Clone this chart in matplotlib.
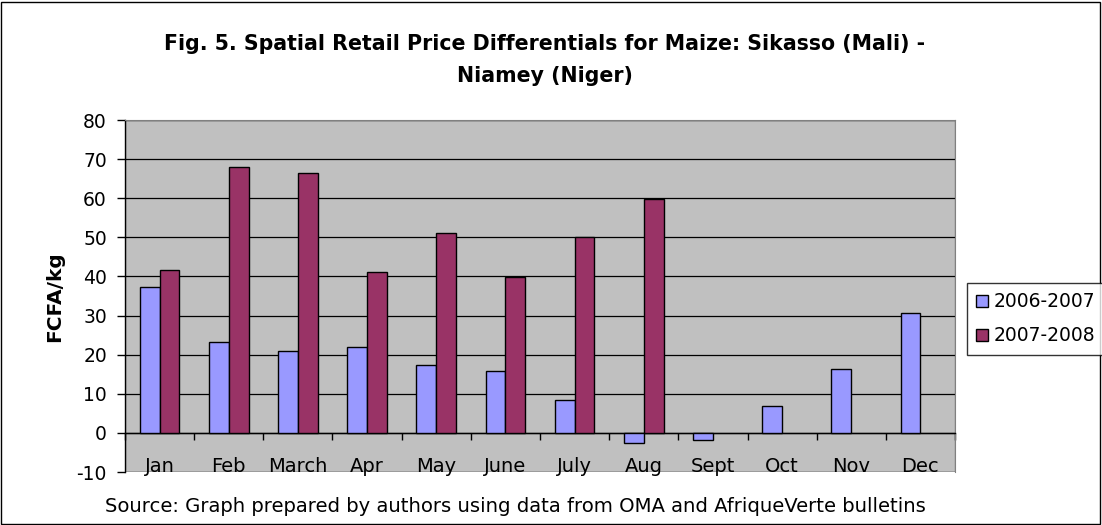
import matplotlib
matplotlib.use("Agg")
import matplotlib.pyplot as plt
import numpy as np
from matplotlib.patches import Rectangle

months = ["Jan", "Feb", "March", "Apr", "May", "June", "July", "Aug", "Sept", "Oct", "Nov", "Dec"]
s2006 = [37.3, 23.2, 21.0, 22.0, 17.4, 15.8, 8.3, -2.6, -1.8, 7.0, 16.3, 30.7]
s2007 = [41.6, 68.0, 66.4, 41.2, 51.2, 39.9, 50.0, 59.7, np.nan, np.nan, np.nan, np.nan]
series_names = ["2006-2007", "2007-2008"]
yticks = list(range(-10, 81, 10))

plt.rcParams['font.family'] = ['DejaVu Sans']
plt.rcParams['axes.unicode_minus'] = False

W, H = 1102, 525
fig = plt.figure(figsize=(W / 100, H / 100), dpi=100)
ax = fig.add_axes([125 / W, 1 - 472 / H, (955 - 125) / W, (472 - 120) / H])

x = np.arange(len(months))
bw = 1 / 3.5
ax.bar(x - bw / 2, s2006, bw, color="#9999FF", edgecolor="black", linewidth=1, label=series_names[0], zorder=3)
ax.bar(x + bw / 2, s2007, bw, color="#993366", edgecolor="black", linewidth=1, label=series_names[1], zorder=3)

ax.set_facecolor("#C0C0C0")
ax.set_xlim(-0.5, len(months) - 0.5)
ax.set_ylim(-10, 80)
ax.set_yticks(yticks)
ax.yaxis.grid(True, color="black", linewidth=0.9, zorder=1)
ax.set_axisbelow(True)
ax.tick_params(axis="y", direction="out", length=6, width=1, labelsize=13.5, pad=7)

# x axis at zero
ax.spines['bottom'].set_position(('data', 0))
ax.spines['bottom'].set_color('black')
ax.spines['bottom'].set_linewidth(1)
ax.set_xticks(np.arange(-0.5, len(months), 1))
ax.set_xticklabels([])
ax.tick_params(axis="x", which="major", direction="out", length=5, width=1)
ax.set_xticks(x, minor=True)
ax.set_xticklabels(months, minor=True)
ax.tick_params(axis="x", which="minor", length=0, labelsize=14, pad=17)

for s in ['top', 'right']:
    ax.spines[s].set_color('#808080')
ax.spines['left'].set_color('black')
ax.spines['left'].set_linewidth(1)
ax.add_patch(Rectangle((0, 0), 1, 1, transform=ax.transAxes, fill=False,
                       edgecolor='#808080', linewidth=1, zorder=0.5))

fig.text(55 / W, 1 - 297 / H, "FCFA/kg", rotation=90, ha="center", va="center",
         fontsize=14.5, fontweight="bold")

fig.text(545 / W, 1 - 44 / H, "Fig. 5. Spatial Retail Price Differentials for Maize: Sikasso (Mali) -",
         ha="center", va="center", fontsize=14.8, fontweight="bold")
fig.text(545 / W, 1 - 76 / H, "Niamey (Niger)", ha="center", va="center", fontsize=14.8, fontweight="bold")
fig.text(515 / W, 1 - 507 / H, "Source: Graph prepared by authors using data from OMA and AfriqueVerte bulletins",
         ha="center", va="center", fontsize=14.1)

leg = fig.legend(loc="upper left", bbox_to_anchor=(967 / W, 1 - 283 / H), fontsize=13.5,
                 frameon=True, fancybox=False, edgecolor="black", handlelength=0.6, handleheight=0.6,
                 handletextpad=0.3, borderaxespad=0, labelspacing=0.8, borderpad=0.5)
leg.get_frame().set_linewidth(1)

fig.patches.append(Rectangle((1 / W, 1 / H), 1 - 3 / W, 1 - 3 / H, transform=fig.transFigure,
                             fill=False, edgecolor="black", linewidth=1))

fig.savefig("out.png", dpi=100)
